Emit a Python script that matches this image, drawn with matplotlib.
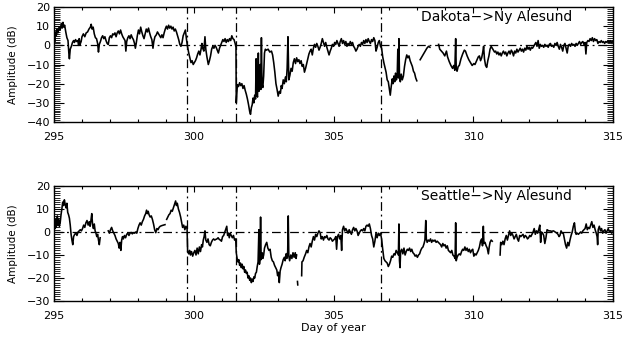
import numpy as np
import matplotlib
matplotlib.use("Agg")
import matplotlib.pyplot as plt
from matplotlib.ticker import MultipleLocator

nan = np.nan

# event markers (day of year)
event_days = [299.77, 301.52, 306.70]

# Dakota -> Ny Alesund, (day, dB)
dakota = [
    (295.00, 4.0), (295.03, 2.0), (295.05, 7.0), (295.08, 5.0), (295.11, 8.5), (295.14, 6.5),
    (295.18, 9.5), (295.22, 8.0), (295.26, 11.5), (295.29, 9.0), (295.32, 12.0), (295.35, 9.5),
    (295.38, 10.5), (295.42, 7.0), (295.46, 4.0), (295.50, 2.5), (295.53, -4.0), (295.55, -7.0),
    (295.58, -2.0), (295.62, -0.5), (295.66, 1.5), (295.70, 2.5), (295.73, 1.5), (295.77, 3.0),
    (295.81, 2.0), (295.85, 2.5), (295.88, 0.0), (295.90, 3.5), (295.93, 0.5), (295.97, 2.0),
    (296.00, 4.5), (296.05, 6.0), (296.10, 4.5), (296.15, 6.5), (296.20, 7.0), (296.25, 8.5),
    (296.30, 9.5), (296.33, 11.0), (296.36, 8.5), (296.40, 9.5), (296.44, 6.0), (296.48, 4.0),
    (296.52, 3.5), (296.56, 1.0), (296.59, -3.5), (296.62, 0.5), (296.66, 2.0), (296.70, 4.0),
    (296.74, 5.0), (296.78, 3.5), (296.82, 4.5), (296.86, 2.5), (296.90, 1.0), (296.94, 0.5),
    (296.98, 4.0), (297.02, 5.0), (297.06, 4.0), (297.10, 6.0), (297.14, 5.5), (297.18, 6.5),
    (297.22, 4.5), (297.26, 6.5), (297.30, 7.5), (297.34, 6.0), (297.38, 8.0), (297.42, 6.0),
    (297.46, 4.5), (297.50, 3.5), (297.54, 2.5), (297.57, -3.0), (297.60, 2.0), (297.64, 4.0),
    (297.68, 5.0), (297.72, 3.5), (297.76, 5.5), (297.80, 4.0), (297.84, 3.0), (297.88, 1.0),
    (297.91, -1.5), (297.94, 1.0), (297.98, 5.0), (298.02, 8.0), (298.06, 6.0), (298.10, 9.5),
    (298.14, 7.0), (298.18, 5.0), (298.22, 3.5), (298.26, 6.0), (298.30, 8.5), (298.34, 7.0),
    (298.38, 9.0), (298.42, 6.5), (298.46, 4.5), (298.50, 3.0), (298.54, -1.5), (298.57, 2.0),
    (298.61, 4.5), (298.66, 5.5), (298.70, 7.0), (298.74, 6.0), (298.78, 5.0), (298.82, 4.0),
    (298.86, 5.5), (298.90, 4.0), (298.94, 6.5), (298.98, 8.5), (299.02, 10.0), (299.06, 8.5),
    (299.10, 10.5), (299.14, 9.0), (299.18, 10.0), (299.22, 8.5), (299.26, 9.5), (299.30, 7.5),
    (299.34, 8.5), (299.38, 7.0), (299.42, 5.0), (299.46, 3.0), (299.50, 0.5), (299.54, -0.5),
    (299.58, 1.5), (299.62, 5.0), (299.66, 6.5), (299.70, 8.0), (299.74, 3.0), (299.78, -1.0),
    (299.82, -4.0), (299.86, -6.5), (299.90, -9.0), (299.94, -8.0), (299.98, -10.0), (300.02, -9.0),
    (300.06, -8.0), (300.10, -6.5), (300.14, -4.5), (300.18, -3.0), (300.22, -5.0), (300.26, -2.0),
    (300.29, 1.0), (300.32, -1.5), (300.36, -3.0), (300.40, 4.5), (300.43, -2.0), (300.47, -6.0),
    (300.52, -10.0), (300.56, -8.0), (300.60, -5.5), (300.64, -2.0), (300.68, -0.5), (300.72, -1.5),
    (300.76, 0.0), (300.80, -1.0), (300.84, -2.5), (300.88, -4.0), (300.92, -1.5), (300.96, 0.0),
    (301.00, 1.5), (301.04, 3.0), (301.08, 2.0), (301.12, 3.5), (301.16, 1.5), (301.20, 3.0),
    (301.24, 2.0), (301.28, 3.5), (301.32, 2.5), (301.36, 5.0), (301.40, 3.5), (301.44, 3.0),
    (301.48, 1.0), (301.51, -1.0), (301.52, -30.0), (301.54, -25.0), (301.56, -20.5), (301.60, -21.5),
    (301.64, -19.5), (301.68, -21.0), (301.72, -20.0), (301.76, -22.5), (301.80, -21.0), (301.84, -23.5),
    (301.88, -25.5), (301.92, -28.0), (301.96, -31.0), (302.00, -34.5), (302.03, -36.0), (302.06, -32.5),
    (302.09, -31.0), (302.12, -27.5), (302.15, -30.0), (302.18, -26.0), (302.21, -28.0), (302.23, -7.0),
    (302.25, -25.0), (302.28, -27.0), (302.31, -4.0), (302.33, -24.0), (302.36, -22.0), (302.38, -10.0),
    (302.40, -23.0), (302.42, 4.0), (302.44, -20.0), (302.47, -22.0), (302.50, -16.0), (302.53, -4.0),
    (302.56, -2.0), (302.60, -2.5), (302.66, -2.0), (302.72, -3.5), (302.78, -3.0), (302.82, -5.0),
    (302.86, -9.0), (302.90, -14.0), (302.94, -20.0), (302.98, -23.0), (303.02, -26.5), (303.06, -24.0),
    (303.10, -25.0), (303.13, -21.0), (303.16, -22.5), (303.20, -18.0), (303.24, -20.0), (303.28, -16.5),
    (303.31, -19.0), (303.34, -12.0), (303.37, 4.5), (303.40, -18.0), (303.44, -15.5), (303.48, -12.0),
    (303.52, -13.5), (303.56, -9.0), (303.60, -7.0), (303.64, -9.5), (303.68, -6.5), (303.72, -8.5),
    (303.76, -7.5), (303.80, -9.5), (303.84, -8.0), (303.88, -11.0), (303.92, -10.0), (303.96, -14.0),
    (304.00, -12.0), (304.04, -9.5), (304.08, -7.0), (304.12, -4.5), (304.16, -3.0), (304.20, -2.0),
    (304.24, -5.0), (304.28, -1.5), (304.32, 0.5), (304.36, -1.0), (304.40, 1.0), (304.44, -0.5),
    (304.48, -2.5), (304.52, -1.0), (304.56, 1.0), (304.60, 3.5), (304.64, 1.5), (304.68, -0.5),
    (304.72, 1.5), (304.76, -1.0), (304.80, -3.0), (304.84, -5.0), (304.88, -3.0), (304.92, -1.5),
    (304.96, 0.5), (305.00, -0.5), (305.04, 1.5), (305.08, 0.5), (305.12, 2.5), (305.16, 1.0),
    (305.20, -0.5), (305.24, 2.0), (305.28, 3.5), (305.32, 1.0), (305.36, 2.5), (305.40, 0.5),
    (305.44, 2.0), (305.48, -0.5), (305.52, 1.0), (305.56, 0.0), (305.60, 2.0), (305.64, 0.5),
    (305.68, 1.5), (305.72, -0.5), (305.76, -1.5), (305.80, -3.0), (305.84, -2.0), (305.88, -0.5),
    (305.92, 0.5), (305.96, -0.5), (306.00, 1.5), (306.04, 0.5), (306.08, 2.5), (306.12, 1.0),
    (306.16, 3.0), (306.20, 1.5), (306.24, 3.5), (306.28, 2.0), (306.32, 1.0), (306.36, 3.0),
    (306.40, 2.0), (306.44, 4.0), (306.48, 2.5), (306.52, -3.0), (306.56, -1.0), (306.60, 1.5),
    (306.64, 2.5), (306.68, -0.5), (306.72, -1.5), (306.76, -6.0), (306.80, -9.0), (306.84, -11.5),
    (306.88, -14.0), (306.92, -18.0), (306.96, -19.0), (307.00, -23.0), (307.03, -26.0), (307.06, -22.0),
    (307.10, -17.5), (307.13, -20.0), (307.16, -16.0), (307.19, -19.0), (307.22, -14.5), (307.25, -18.0),
    (307.28, -15.0), (307.30, -2.0), (307.32, -17.0), (307.34, 3.5), (307.36, -16.5), (307.39, -19.0),
    (307.42, -15.0), (307.46, -18.0), (307.50, -16.0), (307.54, -11.0), (307.58, -7.5), (307.62, -5.0),
    (307.66, -6.5), (307.70, -5.5), (307.74, -8.0), (307.78, -9.5), (307.82, -11.0), (307.86, -13.5),
    (307.90, -14.5), (307.94, -17.0), (307.98, -18.5), (308.02, nan), (308.10, -7.5), (308.16, -6.0),
    (308.22, -4.5), (308.28, -3.0), (308.34, -1.5), (308.40, -0.5), (308.45, -1.0), (308.50, nan),
    (308.76, 0.5), (308.80, -2.0), (308.86, -3.0), (308.92, -4.0), (308.98, -5.5), (309.04, -3.0),
    (309.08, -6.0), (309.14, -8.5), (309.20, -10.5), (309.26, -12.0), (309.30, -10.5), (309.34, -13.0),
    (309.37, 3.5), (309.39, -12.0), (309.42, -13.5), (309.46, -11.0), (309.50, -10.5), (309.56, -7.0),
    (309.62, -4.5), (309.68, -2.5), (309.72, -3.0), (309.78, -5.5), (309.84, -7.5), (309.90, -9.0),
    (309.96, -10.5), (310.02, -9.5), (310.06, -10.0), (310.12, -8.0), (310.18, -6.0), (310.22, -5.5),
    (310.26, -8.0), (310.30, -6.5), (310.34, -3.5), (310.37, -0.5), (310.40, -7.0), (310.44, -10.5),
    (310.48, -11.5), (310.52, -8.0), (310.56, -5.5), (310.60, -2.0), (310.64, -0.5), (310.68, -1.5),
    (310.72, -2.5), (310.76, -3.5), (310.80, -3.0), (310.84, -4.5), (310.88, -3.5), (310.92, -5.0),
    (310.96, -4.0), (311.00, -5.5), (311.04, -4.0), (311.08, -3.0), (311.12, -4.5), (311.16, -3.5),
    (311.20, -5.5), (311.24, -4.0), (311.28, -3.0), (311.32, -4.5), (311.36, -2.5), (311.40, -3.5),
    (311.44, -5.5), (311.48, -3.0), (311.52, -4.0), (311.56, -2.0), (311.60, -3.5), (311.64, -2.5),
    (311.68, -1.5), (311.72, -3.0), (311.76, -2.0), (311.80, -3.5), (311.84, -1.5), (311.88, -2.5),
    (311.92, -0.5), (311.96, -2.0), (312.00, -1.0), (312.04, -2.5), (312.08, -1.0), (312.12, -1.5),
    (312.16, -0.5), (312.20, 0.5), (312.24, 1.5), (312.28, -0.5), (312.32, 2.5), (312.36, -1.5),
    (312.40, 0.5), (312.44, -0.5), (312.48, 0.0), (312.52, -1.0), (312.56, 0.5), (312.60, -0.5),
    (312.64, 0.0), (312.68, -1.0), (312.72, 0.5), (312.76, 1.0), (312.80, -0.5), (312.84, 0.0),
    (312.88, -1.0), (312.92, 1.0), (312.96, 0.0), (313.00, 1.5), (313.04, -0.5), (313.08, -2.0),
    (313.12, 0.5), (313.16, -1.0), (313.20, -3.0), (313.24, 0.0), (313.28, 1.0), (313.32, -1.5),
    (313.36, -4.0), (313.40, 0.0), (313.44, 0.5), (313.48, -0.5), (313.52, 1.0), (313.56, 0.0),
    (313.60, 0.5), (313.64, -0.5), (313.68, 1.0), (313.72, 0.0), (313.76, 1.0), (313.80, 2.0),
    (313.84, 0.5), (313.88, 1.5), (313.92, 2.0), (313.96, 0.5), (314.00, 1.5), (314.03, -4.5),
    (314.06, 1.5), (314.10, 2.5), (314.14, 2.0), (314.18, 3.5), (314.22, 2.5), (314.26, 4.0),
    (314.30, 2.0), (314.34, 3.5), (314.38, 2.5), (314.42, 3.0), (314.46, 1.0), (314.50, 2.0),
    (314.54, 1.5), (314.58, 2.5), (314.62, 1.5), (314.66, 2.0), (314.70, 1.0), (314.74, 2.0),
    (314.78, 1.5), (314.82, 2.5), (314.86, 1.5), (314.90, 2.5), (314.94, 1.5), (314.98, 2.0),
]

# Seattle -> Ny Alesund, (day, dB)
seattle = [
    (295.00, 1.0), (295.02, 4.0), (295.04, 1.5), (295.06, 5.5), (295.08, 2.0), (295.10, 4.5),
    (295.12, 7.0), (295.14, 3.0), (295.16, 5.5), (295.19, 2.5), (295.22, 4.0), (295.25, 7.5),
    (295.28, 10.0), (295.31, 13.0), (295.34, 11.5), (295.37, 14.0), (295.40, 12.0), (295.43, 10.5),
    (295.46, 12.5), (295.49, 8.5), (295.52, 7.5), (295.55, 6.0), (295.58, 3.0), (295.61, -1.0),
    (295.64, -3.5), (295.67, -5.5), (295.70, -2.0), (295.74, -1.0), (295.78, -0.5), (295.82, -1.5),
    (295.86, 0.0), (295.90, 0.5), (295.94, 1.0), (295.98, 0.5), (296.02, 1.5), (296.06, 3.0),
    (296.10, 2.0), (296.14, 4.0), (296.18, 5.0), (296.22, 3.0), (296.26, 4.5), (296.29, 2.5),
    (296.32, 5.0), (296.35, 8.0), (296.38, 3.0), (296.41, 1.5), (296.44, 3.5), (296.47, 0.5),
    (296.50, -0.5), (296.53, -2.0), (296.56, -1.0), (296.59, -3.5), (296.62, -5.5), (296.65, -2.5),
    (296.80, nan), (296.94, 0.5), (296.98, -0.5), (297.02, 1.0), (297.06, 2.0), (297.10, 0.5),
    (297.14, -0.5), (297.18, -1.5), (297.22, -3.0), (297.26, -4.0), (297.30, -5.0), (297.33, -7.0),
    (297.36, -4.5), (297.39, -8.0), (297.42, -3.5), (297.45, -2.0), (297.48, -3.0), (297.52, -1.5),
    (297.56, -2.5), (297.60, -1.0), (297.64, -0.5), (297.68, -1.5), (297.72, -0.5), (297.76, -0.2),
    (297.80, -0.8), (297.84, -0.3), (297.88, -0.5), (297.92, 0.0), (297.96, -0.5), (298.00, 1.5),
    (298.04, 3.0), (298.08, 4.0), (298.12, 3.0), (298.16, 4.5), (298.20, 5.5), (298.24, 7.0),
    (298.28, 8.0), (298.31, 9.5), (298.34, 8.0), (298.37, 9.0), (298.40, 7.5), (298.44, 6.5),
    (298.48, 7.0), (298.52, 5.5), (298.56, 3.5), (298.60, 1.0), (298.64, -0.3), (298.68, 1.5),
    (298.72, 1.0), (298.76, 2.0), (298.80, 2.5), (298.86, 2.8), (298.92, 3.0), (298.97, 3.2),
    (299.00, nan), (299.03, 5.5), (299.07, 6.5), (299.11, 7.5), (299.15, 8.0), (299.19, 9.5),
    (299.23, 9.0), (299.27, 10.5), (299.31, 12.0), (299.35, 13.5), (299.38, 11.5), (299.41, 12.5),
    (299.45, 10.0), (299.49, 8.5), (299.53, 6.5), (299.57, 4.0), (299.60, 2.0), (299.64, 3.0),
    (299.68, 1.0), (299.72, 2.5), (299.76, 1.5), (299.78, -8.5), (299.82, -9.5), (299.85, -8.0),
    (299.88, -10.0), (299.92, -8.5), (299.96, -10.5), (300.00, -9.0), (300.04, -8.0), (300.08, -10.0),
    (300.12, -7.0), (300.16, -9.5), (300.20, -6.5), (300.24, -8.5), (300.28, -5.5), (300.31, -6.5),
    (300.34, -3.5), (300.37, -2.0), (300.40, 0.5), (300.43, -3.5), (300.47, -4.5), (300.51, -3.0),
    (300.55, -5.5), (300.59, -6.0), (300.63, -4.5), (300.67, -3.5), (300.71, -3.0), (300.75, -3.5),
    (300.79, -3.2), (300.83, -3.0), (300.87, -2.5), (300.91, -3.2), (300.95, -3.5), (300.99, -4.0),
    (301.03, -2.0), (301.07, -1.5), (301.11, 0.0), (301.15, 1.5), (301.18, 2.5), (301.21, -1.5),
    (301.24, -0.5), (301.27, -2.5), (301.30, -0.5), (301.34, -1.5), (301.38, -2.5), (301.42, -1.5),
    (301.46, -3.5), (301.50, -3.0), (301.52, -9.0), (301.55, -11.5), (301.58, -13.0), (301.61, -12.0),
    (301.64, -14.5), (301.67, -13.5), (301.70, -15.5), (301.73, -14.0), (301.76, -16.0), (301.79, -15.0),
    (301.82, -17.5), (301.85, -16.5), (301.88, -18.0), (301.91, -17.5), (301.94, -20.0), (301.97, -19.0),
    (302.00, -21.0), (302.03, -20.0), (302.06, -22.0), (302.09, -20.5), (302.12, -21.5), (302.15, -19.5),
    (302.18, -20.0), (302.21, -18.0), (302.24, -17.5), (302.27, -15.0), (302.30, -13.0), (302.33, 1.0),
    (302.35, -14.0), (302.37, -11.5), (302.39, 6.5), (302.41, -12.0), (302.44, -9.0), (302.47, -11.5),
    (302.50, -10.0), (302.53, -7.0), (302.57, -5.5), (302.61, -4.5), (302.65, -7.0), (302.69, -8.0),
    (302.73, -7.5), (302.77, -11.0), (302.81, -12.5), (302.85, -13.0), (302.89, -14.5), (302.93, -15.5),
    (302.97, -16.5), (303.00, -19.0), (303.03, -17.5), (303.06, -22.0), (303.09, -17.0), (303.12, -15.5),
    (303.16, -14.0), (303.20, -12.0), (303.24, -11.0), (303.27, -12.5), (303.30, -9.5), (303.33, -11.5),
    (303.36, -8.5), (303.38, 7.0), (303.40, -10.5), (303.43, -12.5), (303.47, -10.0), (303.51, -11.5),
    (303.55, -9.0), (303.59, -11.0), (303.63, -9.0), (303.66, -11.5), (303.68, -10.0), (303.70, nan),
    (303.71, -21.5), (303.72, -23.0), (303.75, nan), (303.86, -19.0), (303.87, -13.0), (303.91, -12.5),
    (303.95, -11.0), (304.00, -9.5), (304.04, -8.0), (304.08, -9.0), (304.12, -6.5), (304.16, -5.0),
    (304.20, -6.5), (304.24, -4.0), (304.28, -2.0), (304.32, -3.5), (304.36, -1.0), (304.40, -2.0),
    (304.44, -0.5), (304.48, 0.5), (304.52, -0.3), (304.56, -3.0), (304.60, -2.0), (304.64, -3.5),
    (304.68, -2.0), (304.72, -2.5), (304.76, -1.5), (304.80, -3.0), (304.84, -3.5), (304.88, -2.5),
    (304.92, -3.0), (304.96, -4.0), (305.00, -3.5), (305.04, -3.0), (305.08, -2.0), (305.11, -7.5),
    (305.14, -2.0), (305.18, -1.0), (305.22, -3.0), (305.26, -1.5), (305.29, -8.0), (305.32, 1.0),
    (305.36, 2.5), (305.40, 0.5), (305.44, 1.5), (305.48, 0.5), (305.52, -0.5), (305.56, 1.0),
    (305.60, 0.0), (305.64, -1.0), (305.68, 1.0), (305.72, 2.0), (305.76, 0.5), (305.80, 1.5),
    (305.84, 0.5), (305.88, -1.5), (305.92, -0.5), (305.96, 0.5), (306.00, 1.0), (306.04, 0.5),
    (306.08, 1.5), (306.12, 0.5), (306.16, 2.5), (306.20, 3.0), (306.24, 2.5), (306.28, 3.5),
    (306.32, 1.5), (306.36, -1.5), (306.40, -3.0), (306.44, -6.5), (306.48, -4.0), (306.52, -0.5),
    (306.56, -2.5), (306.60, -0.5), (306.64, -1.5), (306.68, -0.5), (306.72, -3.0), (306.76, -7.5),
    (306.80, -11.5), (306.84, -12.5), (306.88, -13.0), (306.92, -13.5), (306.96, -15.0), (307.00, -14.0),
    (307.04, -12.5), (307.08, -10.5), (307.12, -11.0), (307.16, -9.5), (307.20, -10.0), (307.24, -8.0),
    (307.28, -9.0), (307.32, -10.0), (307.34, 3.5), (307.36, -12.5), (307.38, -15.5), (307.40, -8.5),
    (307.44, -7.5), (307.48, -9.5), (307.52, -7.0), (307.56, -10.0), (307.60, -8.5), (307.64, -7.5),
    (307.68, -8.0), (307.72, -7.0), (307.76, -8.5), (307.80, -7.5), (307.84, -9.0), (307.88, -9.5),
    (307.92, -10.5), (307.96, -10.0), (308.00, -11.0), (308.04, -10.0), (308.08, -9.5), (308.12, -8.0),
    (308.16, -7.0), (308.20, -6.5), (308.24, -5.0), (308.27, -3.5), (308.30, 5.0), (308.32, -3.0),
    (308.35, -4.5), (308.39, -3.5), (308.43, -4.0), (308.47, -3.0), (308.51, -4.5), (308.55, -3.5),
    (308.59, -4.0), (308.63, -3.5), (308.67, -4.5), (308.71, -4.0), (308.75, -4.5), (308.79, -5.0),
    (308.83, -5.5), (308.87, -6.5), (308.91, -5.0), (308.95, -6.0), (308.99, -5.5), (309.03, -7.0),
    (309.07, -6.0), (309.11, -8.0), (309.15, -8.5), (309.19, -9.0), (309.23, -8.0), (309.27, -10.0),
    (309.31, -10.5), (309.35, -11.5), (309.37, 4.0), (309.39, -12.5), (309.42, -11.0), (309.46, -10.0),
    (309.50, -9.5), (309.54, -10.0), (309.58, -8.5), (309.62, -7.5), (309.66, -8.0), (309.70, -6.5),
    (309.74, -8.0), (309.78, -7.0), (309.82, -8.5), (309.86, -7.5), (309.90, -9.0), (309.94, -8.0),
    (309.98, -7.5), (310.02, -10.5), (310.06, -9.5), (310.10, -10.0), (310.14, -9.0), (310.18, -8.0),
    (310.22, -6.5), (310.26, -4.0), (310.30, -3.0), (310.33, -6.0), (310.36, 2.5), (310.38, -5.0),
    (310.42, -4.5), (310.46, -6.0), (310.50, -7.0), (310.54, -9.5), (310.57, -6.5), (310.60, -4.5),
    (310.64, -3.5), (310.68, -4.0), (310.80, nan), (310.96, -10.0), (310.98, -4.5), (311.02, -5.5),
    (311.06, -4.0), (311.10, -5.5), (311.14, -3.0), (311.18, -1.5), (311.22, -3.5), (311.26, -1.5),
    (311.30, 0.5), (311.34, -1.5), (311.38, -0.5), (311.42, -1.5), (311.46, -3.0), (311.50, -2.0),
    (311.54, -1.0), (311.58, -3.0), (311.62, -4.0), (311.66, -1.5), (311.70, -2.0), (311.74, -1.5),
    (311.78, -1.0), (311.82, -2.5), (311.86, -1.5), (311.90, -2.0), (311.94, -3.0), (311.98, -2.5),
    (312.02, -1.5), (312.06, -2.0), (312.10, -1.0), (312.14, 0.0), (312.18, 1.5), (312.22, -1.0),
    (312.26, 0.5), (312.30, -0.5), (312.34, 1.0), (312.38, 3.0), (312.41, -4.5), (312.44, 0.0),
    (312.48, -0.5), (312.52, -1.5), (312.56, -5.0), (312.60, -2.5), (312.64, 1.0), (312.70, 0.5),
    (312.75, 0.5), (312.80, 0.3), (312.87, 0.5), (312.93, 0.0), (312.99, -0.5), (313.03, -1.0),
    (313.07, -2.0), (313.10, -1.5), (313.14, 0.5), (313.18, -0.5), (313.22, -0.5), (313.26, -3.0),
    (313.30, -5.5), (313.34, -7.0), (313.38, -4.5), (313.42, -6.0), (313.46, -3.5), (313.50, -1.5),
    (313.54, 0.0), (313.58, 2.5), (313.62, 4.0), (313.65, 0.5), (313.68, -1.0), (313.72, -0.5),
    (313.76, -1.0), (313.80, -0.5), (313.84, 0.0), (313.88, -0.5), (313.92, 0.5), (313.96, 1.0),
    (314.00, 1.5), (314.04, 3.5), (314.08, 1.0), (314.12, 2.0), (314.16, 1.5), (314.20, 3.0),
    (314.24, 4.5), (314.28, 2.0), (314.32, 3.0), (314.36, 1.0), (314.40, -0.5), (314.43, -2.0),
    (314.45, -5.5), (314.47, 1.0), (314.51, 2.5), (314.55, 0.5), (314.59, 1.5), (314.63, -0.5),
    (314.67, 0.5), (314.71, 1.0), (314.75, -0.5), (314.79, 0.5), (314.83, 1.5), (314.87, 0.0),
    (314.91, 0.5), (314.95, -0.5), (314.99, 0.0),
]

panels = [
    ("Dakota\u2212>Ny Alesund", dakota, (-40, 20)),
    ("Seattle\u2212>Ny Alesund", seattle, (-30, 20)),
]

fig = plt.figure(figsize=(6.29, 3.41), dpi=100)
axes_pos = [[0.0859, 0.6422, 0.8887, 0.3372], [0.0859, 0.1173, 0.8887, 0.3372]]

dashdot = (0, (7, 3, 1.5, 3))

for pos, (title, data, ylim) in zip(axes_pos, panels):
    ax = fig.add_axes(pos)
    day = np.array([d[0] for d in data])
    db = np.array([d[1] for d in data])
    ax.plot(day, db, color="black", lw=1.15)

    ax.axhline(0, color="black", lw=0.9, linestyle=dashdot)
    for d in event_days:
        ax.axvline(d, color="black", lw=0.9, linestyle=dashdot)

    ax.set_xlim(295, 315)
    ax.set_ylim(*ylim)
    ax.xaxis.set_major_locator(MultipleLocator(5))
    ax.xaxis.set_minor_locator(MultipleLocator(1))
    ax.yaxis.set_major_locator(MultipleLocator(10))
    ax.yaxis.set_minor_locator(MultipleLocator(1))
    ax.tick_params(which="both", direction="in", top=True, right=True,
                   colors="black", labelsize=8)
    ax.tick_params(axis="x", which="major", length=4.5, width=0.8, pad=7)
    ax.tick_params(axis="x", which="minor", length=2.5, width=0.8)
    ax.tick_params(axis="y", which="major", length=7.5, width=0.8, pad=3)
    ax.tick_params(axis="y", which="minor", length=4.0, width=0.6)
    for s in ax.spines.values():
        s.set_linewidth(1.0)

    ax.set_ylabel("Amplitude (dB)", fontsize=7.5)
    ax.yaxis.set_label_coords(-0.064, 0.5)
    ax.text(0.927, 0.912, title, transform=ax.transAxes, ha="right", va="center",
            fontsize=10)

ax.set_xlabel("Day of year", fontsize=8)
ax.xaxis.set_label_coords(0.5, -0.19)

fig.savefig("out.png", dpi=100)
